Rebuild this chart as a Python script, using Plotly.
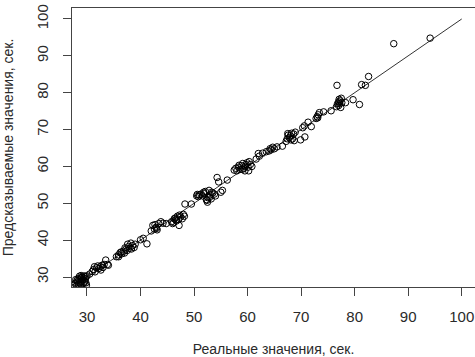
import plotly.graph_objects as go

# Actual (real) values, seconds
actual = [
    27.6, 27.8, 28.0, 28.2, 28.4, 28.5, 28.7, 28.8, 28.9, 29.0, 29.1, 29.2, 29.3, 29.4,
    29.5, 29.6, 29.7, 29.8, 29.9, 29.0, 28.6, 28.3, 29.5, 28.9, 28.1, 29.8, 27.9, 30.0,
    30.5, 31.0, 31.2, 31.5, 31.8, 32.0, 32.2, 32.5, 32.8, 33.0, 33.2, 33.5, 33.8, 31.4, 32.6, 34.0,
    35.5, 35.9, 36.2, 36.5, 36.8, 37.0, 37.3, 37.5, 37.8, 38.0, 38.2, 38.5, 38.8, 39.0,
    37.6, 36.4, 37.1, 38.3, 35.9,
    40.5, 41.2, 40.0,
    42.0, 42.3, 42.6, 42.9, 43.1, 43.4, 43.8, 44.2, 44.8, 42.7, 43.0,
    45.8, 46.0, 46.3, 46.5, 46.7, 46.9, 47.1, 47.2, 47.5, 47.8, 48.2, 46.2, 47.3, 46.6,
    48.3, 49.5, 48.0,
    50.5, 50.8, 51.0, 51.3, 51.6, 51.8, 52.1, 52.3, 52.5, 52.6, 52.8, 53.0, 53.2, 53.5,
    53.8, 54.0, 54.3, 54.6, 55.0, 55.3, 52.4, 51.9, 53.3, 52.9, 50.6,
    56.2,
    57.5, 57.8, 58.0, 58.3, 58.6, 58.9, 59.1, 59.3, 59.5, 59.7, 59.9, 60.1, 60.3, 60.2,
    60.5, 60.8, 59.0, 58.4, 59.6,
    61.6, 62.0, 62.2, 62.8, 63.5, 64.0, 64.2, 64.4, 64.7, 65.0, 65.5, 66.5,
    67.2, 67.4, 67.6, 67.8, 68.0, 68.2, 68.4, 68.6, 68.9, 67.5, 68.1, 68.7, 69.9, 70.7,
    70.3, 70.6,
    71.3, 71.9, 72.8, 73.0, 73.2, 73.4, 74.2, 75.6, 73.1,
    76.6, 76.8, 77.0, 77.1, 77.3, 77.4, 77.2, 77.5, 77.6, 77.0, 78.3, 79.7, 80.9, 76.7,
    81.3, 82.0, 82.6, 87.3, 94.1,
]

# Predicted values, seconds
predicted = [
    27.8, 28.3, 27.6, 28.6, 28.0, 29.2, 28.4, 29.6, 27.9, 28.8, 30.0, 29.3, 28.2, 29.8,
    30.3, 28.9, 29.5, 30.1, 27.8, 29.9, 30.2, 29.5, 28.5, 30.4, 29.0, 28.4, 29.3, 30.3,
    30.8, 31.5, 32.0, 31.4, 32.5, 33.0, 32.3, 32.8, 33.2, 32.6, 33.4, 34.6, 33.4, 32.8, 31.9, 33.2,
    35.5, 36.0, 36.6, 36.3, 37.0, 36.5, 37.6, 37.2, 38.3, 37.8, 39.2, 38.5, 38.0, 38.9,
    38.9, 36.8, 37.9, 37.6, 35.5,
    40.5, 39.0, 40.1,
    42.5, 44.0, 43.0, 43.5, 42.8, 44.5, 45.0, 44.6, 44.5, 44.2, 43.2,
    45.0, 44.5, 45.8, 46.0, 45.2, 46.5, 45.6, 44.0, 46.3, 45.8, 46.5, 44.8, 46.8, 45.5,
    49.8, 49.8, 47.0,
    52.0, 51.8, 52.3, 52.5, 52.0, 53.0, 53.2, 51.0, 50.3, 51.5, 53.5, 52.3, 51.2, 52.8,
    52.5, 52.0, 57.0, 55.8, 53.0, 53.5, 50.8, 52.6, 53.0, 51.6, 52.4,
    56.3,
    59.0, 59.5, 58.8, 59.8, 59.2, 60.2, 60.8, 59.5, 58.8, 60.5, 61.0, 59.8, 61.3, 58.8,
    60.5, 60.0, 59.2, 60.3, 60.0,
    62.0, 63.5, 62.8, 63.6, 64.0, 64.2, 64.8, 64.5, 65.2, 64.8, 65.3, 65.5,
    66.8, 67.5, 68.5, 67.8, 68.3, 69.0, 67.5, 68.8, 69.3, 68.9, 67.2, 67.0, 67.2, 68.0,
    70.5, 71.0,
    72.0, 70.8, 73.0, 73.5, 74.0, 74.6, 74.8, 75.1, 73.2,
    76.2, 77.0, 77.5, 78.2, 77.8, 76.0, 77.0, 78.5, 77.3, 76.5, 77.3, 78.1, 76.8, 82.0,
    82.2, 82.0, 84.4, 93.3, 94.8,
]

# Reference line (ideal prediction)
line_x = [27.5, 100]
line_y = [27.5, 100]

x_ticks = [30, 40, 50, 60, 70, 80, 90, 100]
y_ticks = [30, 40, 50, 60, 70, 80, 90, 100]

fig = go.Figure()
fig.add_trace(go.Scatter(
    x=line_x, y=line_y, mode="lines",
    line=dict(color="#333333", width=1), hoverinfo="skip", showlegend=False,
))
fig.add_trace(go.Scatter(
    x=actual, y=predicted, mode="markers",
    marker=dict(symbol="circle-open", size=6.5, color="black", line=dict(width=1, color="black")),
    showlegend=False,
))

font_fam = "Liberation Sans, Arial, sans-serif"
txt = "#2a2a2a"
fig.update_layout(
    width=475, height=357,
    margin=dict(l=72, r=0, t=8, b=70),
    paper_bgcolor="white", plot_bgcolor="white",
    font=dict(family=font_fam, size=15, color=txt),
    xaxis=dict(
        range=[27.2, 102.48], tickvals=x_ticks, ticktext=[str(v) for v in x_ticks],
        showgrid=False, zeroline=False, showline=True, linecolor="#444444", linewidth=1,
        mirror=True, ticks="outside", ticklen=8, tickcolor="#444444", tickwidth=1,
        ticklabelstandoff=8, automargin=False,
        tickfont=dict(size=15, color=txt),
        title=dict(text="Реальные значения, сек.", font=dict(size=14, color=txt), standoff=21),
    ),
    yaxis=dict(
        range=[27.29, 102.98], tickvals=y_ticks, ticktext=[str(v) for v in y_ticks],
        showgrid=False, zeroline=False, showline=True, linecolor="#444444", linewidth=1,
        mirror=False, ticks="outside", ticklen=8, tickcolor="#444444", tickwidth=1,
        tickangle=-90, ticklabelstandoff=9, automargin=False,
        tickfont=dict(size=15, color=txt),
        title=dict(text="Предсказываемые значения, сек.", font=dict(size=14, color=txt), standoff=19),
    ),
)

fig.write_html(
    "out.html",
    config={"displayModeBar": False},
    post_script="document.body.style.margin='0';document.body.style.overflow='hidden';",
)
